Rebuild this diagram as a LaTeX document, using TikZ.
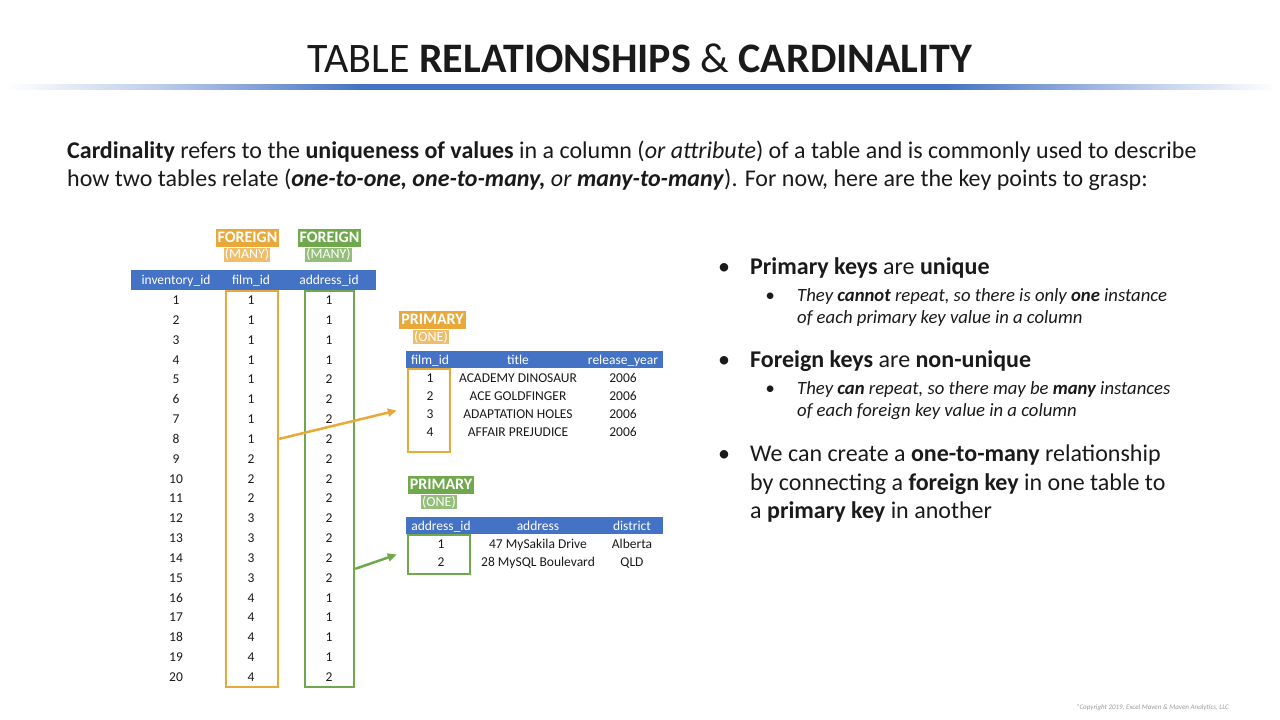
\documentclass[tikz,border=0pt]{standalone}
\usepackage{fontspec}
\setmainfont{Carlito}
\usetikzlibrary{arrows.meta, positioning, calc}
\definecolor{cblue}{HTML}{4472C4}
\definecolor{corange}{HTML}{E9A93A}
\definecolor{cgreen}{HTML}{70A84C}
\definecolor{ctext}{HTML}{1A1A1A}
\definecolor{cgrey}{HTML}{9A9A9A}
\pgfdeclarehorizontalshading{rulefade}{100bp}{color(0bp)=(white); color(25bp)=(white); color(31bp)=(cblue!35);
  color(39bp)=(cblue); color(62bp)=(cblue); color(70bp)=(cblue!35); color(75bp)=(white); color(100bp)=(white)}
\tikzset{
  hdr/.style={fill=cblue, inner sep=0pt, minimum height=#1},
  colname/.style={font=\fontsize{13.5}{15}\selectfont, text=white, inner sep=0pt, text height=9pt, text depth=0pt},
  cell/.style={font=\fontsize{13.5}{15}\selectfont, text=ctext, inner sep=0pt, text height=9pt, text depth=0pt},
  keybox/.style={draw=#1, line width=2.5pt, inner sep=0pt},
  keytag/.style={fill=#1, text=white, font=\fontsize{16}{16}\bfseries\selectfont, inner xsep=2pt, inner ysep=0pt, minimum height=18pt},
  keysub/.style={fill=#1!75, text=white, font=\fontsize{14}{14}\selectfont, inner xsep=1pt, inner ysep=0pt, minimum height=14pt},
  keyarrow/.style={draw=#1, line width=2.5pt, -{Triangle[length=9pt, width=8pt]}},
  body/.style={font=\fontsize{24}{28}\selectfont, text=ctext, inner sep=0pt, anchor=base west},
  subtext/.style={font=\fontsize{18.7}{22}\selectfont\itshape, text=ctext, inner sep=0pt, anchor=base west},
}

\begin{document}
\begin{tikzpicture}[x=1pt, y=-1pt]
  \useasboundingbox[fill=white] (0,0) rectangle (1280,720);
  % title and rule
  \node[font=\fontsize{42}{48}\selectfont, text=ctext, inner sep=0pt, anchor=base] (title) at (640,72) {TABLE \textbf{RELATIONSHIPS} \& \textbf{CARDINALITY}};
  \shade[shading=rulefade] (5,84) rectangle (1275,89);
  % intro
  \node[body] (intro1) at (67,158) {\textbf{Cardinality} refers to the \textbf{uniqueness of values} in a column (\textit{or attribute}) of a table and is commonly used to describe};
  \node[body] (intro2) at (67,186) {how two tables relate (\textbf{\textit{one-to-one, one-to-many,}} \textit{or} \textbf{\textit{many-to-many}}). For now, here are the key points to grasp:};

  % inventory table
  \node[hdr=20pt, minimum width=245pt] (invhead) at (253.5,280) {};
  \node[colname] (invcol1) at (176,280) {inventory\_id};
  \node[colname] (invcol2) at (251,280) {film\_id};
  \node[colname] (invcol3) at (329,280) {address\_id};
  \foreach \i/\f/\a in {1/1/1, 2/1/1, 3/1/1, 4/1/1, 5/1/2, 6/1/2, 7/1/2, 8/1/2, 9/2/2, 10/2/2,
                        11/2/2, 12/3/2, 13/3/2, 14/3/2, 15/3/2, 16/4/1, 17/4/1, 18/4/1, 19/4/1, 20/4/2} {
    \node[cell] (inv\i) at (176,{300+(\i-1)*19.84}) {\i};
    \node[cell] (film\i) at (251,{300+(\i-1)*19.84}) {\f};
    \node[cell] (addr\i) at (329,{300+(\i-1)*19.84}) {\a};
  }
  \node[keybox=corange, minimum width=52pt, minimum height=396pt] (fkfilm) at (252,489) {};
  \node[keybox=cgreen, minimum width=49pt, minimum height=396pt] (fkaddr) at (329.5,489) {};
  \node[keytag=corange] (fktag1) at (247.5,237.5) {FOREIGN};
  \node[keysub=corange] (fksub1) at (247,254.5) {(MANY)};
  \node[keytag=cgreen] (fktag2) at (329.5,237.5) {FOREIGN};
  \node[keysub=cgreen] (fksub2) at (328.5,254.5) {(MANY)};

  % film table
  \node[hdr=17pt, minimum width=257pt] (filmhead) at (534.5,359.5) {};
  \node[colname] (filmcol1) at (430,359.5) {film\_id};
  \node[colname] (filmcol2) at (518,359.5) {title};
  \node[colname] (filmcol3) at (623,359.5) {release\_year};
  \foreach \i/\t in {1/ACADEMY DINOSAUR, 2/ACE GOLDFINGER, 3/ADAPTATION HOLES, 4/AFFAIR PREJUDICE} {
    \node[cell] (fid\i) at (430,{378+(\i-1)*18}) {\i};
    \node[cell] (ftitle\i) at (518,{378+(\i-1)*18}) {\t};
    \node[cell] (fyear\i) at (623,{378+(\i-1)*18}) {2006};
  }
  \node[keybox=corange, minimum width=42pt, minimum height=83pt] (pkfilm) at (429,410.5) {};
  \node[keytag=corange] (pktag1) at (432.5,319.5) {PRIMARY};
  \node[keysub=corange] (pksub1) at (431,337) {(ONE)};

  % address table
  \node[hdr=17pt, minimum width=257pt] (addrhead) at (534.5,525.5) {};
  \node[colname] (addrcol1) at (441,525.5) {address\_id};
  \node[colname] (addrcol2) at (538,525.5) {address};
  \node[colname] (addrcol3) at (632,525.5) {district};
  \foreach \i/\s/\d in {1/47 MySakila Drive/Alberta, 2/28 MySQL Boulevard/QLD} {
    \node[cell] (aid\i) at (441,{544+(\i-1)*18}) {\i};
    \node[cell] (astreet\i) at (538,{544+(\i-1)*18}) {\s};
    \node[cell] (adist\i) at (632,{544+(\i-1)*18}) {\d};
  }
  \node[keybox=cgreen, minimum width=62pt, minimum height=39pt] (pkaddr) at (439,554.5) {};
  \node[keytag=cgreen] (pktag2) at (441,484.5) {PRIMARY};
  \node[keysub=cgreen] (pksub2) at (439,502) {(ONE)};

  % links
  \coordinate (addrlink) at ($(addr14)!0.55!(addr15)$);
  \draw[keyarrow=corange] (fkfilm.east |- film8) -- ([xshift=-10pt]pkfilm.west);
  \draw[keyarrow=cgreen] (fkaddr.east |- addrlink) -- ([xshift=-10pt]pkaddr.west);

  % key points
  \node[body, anchor=base] (dot1) at (724,274) {\textbullet};
  \node[body] (pt1) at (750,274) {\textbf{Primary keys} are \textbf{unique}};
  \node[subtext, anchor=base] (dot1a) at (770,301) {\textbullet};
  \node[subtext] (pt1a) at (797,301) {They \textbf{cannot} repeat, so there is only \textbf{one} instance};
  \node[subtext] (pt1b) at (797,323) {of each primary key value in a column};
  \node[body, anchor=base] (dot2) at (724,367) {\textbullet};
  \node[body] (pt2) at (750,367) {\textbf{Foreign keys} are \textbf{non-unique}};
  \node[subtext, anchor=base] (dot2a) at (770,394) {\textbullet};
  \node[subtext] (pt2a) at (797,394) {They \textbf{can} repeat, so there may be \textbf{many} instances};
  \node[subtext] (pt2b) at (797,416) {of each foreign key value in a column};
  \node[body, anchor=base] (dot3) at (724,461) {\textbullet};
  \node[body] (pt3) at (750,461) {We can create a \textbf{one-to-many} relationship};
  \node[body] (pt3b) at (750,490) {by connecting a \textbf{foreign key} in one table to};
  \node[body] (pt3c) at (750,518) {a \textbf{primary key} in another};

  \node[font=\fontsize{7}{8}\selectfont\itshape, text=cgrey, inner sep=0pt, anchor=base east] (copy) at (1229,709) {*Copyright 2019, Excel Maven \& Maven Analytics, LLC};
\end{tikzpicture}
\end{document}
